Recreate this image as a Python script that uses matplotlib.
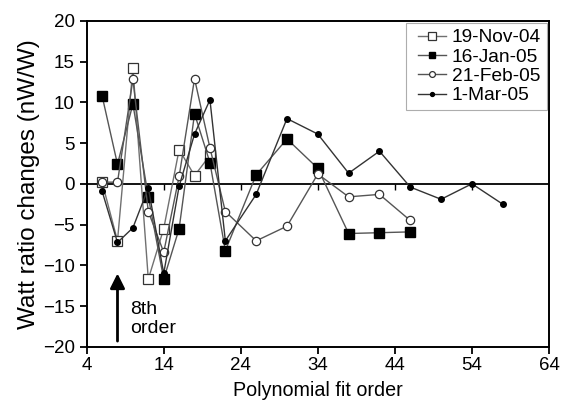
import matplotlib
matplotlib.use("Agg")
import matplotlib.pyplot as plt
from matplotlib.lines import Line2D
from matplotlib.legend_handler import HandlerLine2D

plt.rcParams['font.family'] = ['Liberation Sans', 'DejaVu Sans']

# polynomial fit orders for each measurement date
x_nov = [6, 8, 10, 12, 14, 16, 18, 20]
y_nov = [0.2, -7.0, 14.2, -11.7, -5.5, 4.2, 1.0, 3.5]

x_jan = [6, 8, 10, 12, 14, 16, 18, 20, 22, 26, 30, 34, 38, 42, 46]
y_jan = [10.8, 2.4, 9.8, -1.6, -11.7, -5.5, 8.6, 2.6, -8.2, 1.1, 5.5, 1.9, -6.1, -6.0, -5.9]

x_feb = [6, 8, 10, 12, 14, 16, 18, 20, 22, 26, 30, 34, 38, 42, 46]
y_feb = [0.2, 0.2, 12.8, -3.4, -8.4, 0.9, 12.9, 4.4, -3.4, -7.0, -5.2, 1.2, -1.6, -1.3, -4.5]

x_mar = [6, 8, 10, 12, 14, 16, 18, 20, 22, 26, 30, 34, 38, 42, 46, 50, 54, 58]
y_mar = [-0.9, -7.2, -5.4, -0.5, -11.0, -0.3, 6.1, 10.3, -7.0, -1.3, 8.0, 6.1, 1.3, 4.0, -0.4, -1.9, 0.0, -2.5]

xticks = [4, 14, 24, 34, 44, 54, 64]
yticks = [-20, -15, -10, -5, 0, 5, 10, 15, 20]

fig = plt.figure(figsize=(5.61, 4.0), dpi=100)
ax = fig.add_axes([0.1545, 0.133, 0.824, 0.815])

ax.axhline(0, color='black', lw=1.3, zorder=1)
# small ticks hanging under the zero line
ax.plot(xticks[1:-1], [0] * (len(xticks) - 2), ls='none', marker=3,
        color='black', ms=4, mew=1.0, zorder=1)

ax.plot(x_nov, y_nov, '-s', color='#707070', lw=1, mfc='white', mec='#333333',
        ms=7.5, mew=0.9, label='19-Nov-04', zorder=3)
ax.plot(x_jan, y_jan, '-s', color='#555555', lw=1, mfc='black', mec='black',
        ms=6.5, label='16-Jan-05', zorder=4)
ax.plot(x_feb, y_feb, '-o', color='#555555', lw=1, mfc='white', mec='#333333',
        ms=6, mew=0.9, label='21-Feb-05', zorder=5)
ax.plot(x_mar, y_mar, '-o', color='#333333', lw=1, mfc='black', mec='black',
        ms=4, label='1-Mar-05', zorder=6)

ax.annotate('', xy=(8, -11.0), xytext=(8, -19.3),
            arrowprops=dict(arrowstyle='-|>', lw=2, color='black',
                            mutation_scale=22, shrinkA=0, shrinkB=0))
ax.text(9.7, -16.6, '8th\norder', fontsize=14, ha='left', va='center',
        linespacing=1.1)

ax.set_xlim(4, 64)
ax.set_ylim(-20, 20)
ax.set_xticks(xticks)
ax.set_yticks(yticks)
ax.tick_params(labelsize=13.5, length=5, width=1.3, direction='out')
ax.tick_params(axis='x', pad=2.5)
for s in ax.spines.values():
    s.set_linewidth(1.4)

ax.set_xlabel('Polynomial fit order', fontsize=14.2, labelpad=5)
ax.set_ylabel('Watt ratio changes (nW/W)', fontsize=17.5, labelpad=2)

leg = ax.legend(loc='upper right', fontsize=13.8, frameon=True, fancybox=False,
                handlelength=1.8, handletextpad=0.3, borderpad=0.3,
                labelspacing=0.1, borderaxespad=0.12, markerscale=0.7,
                handler_map={Line2D: HandlerLine2D(xpad=0.35)})
leg.get_frame().set_edgecolor('#999999')
leg.get_frame().set_linewidth(0.8)

fig.savefig('out.png', dpi=100)
